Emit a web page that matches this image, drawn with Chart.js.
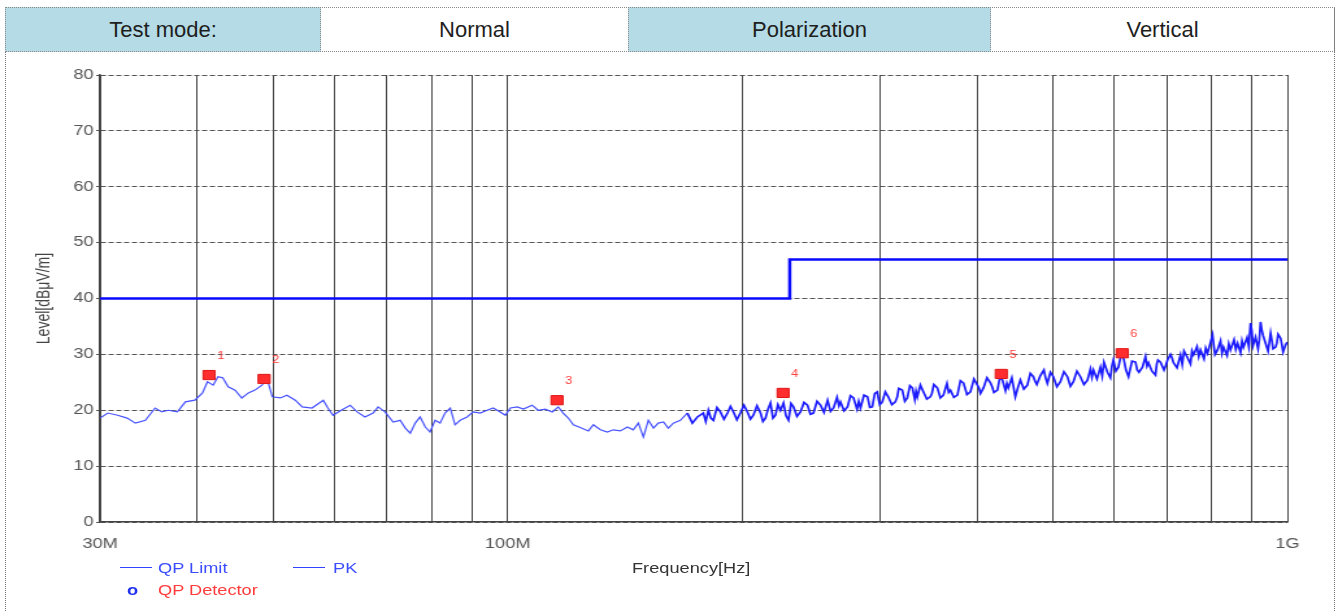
<!DOCTYPE html>
<html>
<head>
<meta charset="utf-8">
<script src="https://cdn.jsdelivr.net/npm/chart.js@4.4.1/dist/chart.umd.min.js"></script>
<style>
html,body{margin:0;padding:0;background:#fff;}
body{width:1338px;height:611px;position:relative;overflow:hidden;font-family:"Liberation Sans",Arial,sans-serif;}
.frame{position:absolute;top:7px;height:604px;width:0;border-left:1px dotted #777;}
.hdr{position:absolute;top:7px;height:45px;box-sizing:border-box;border:1px dotted #888;display:flex;align-items:center;justify-content:center;font-size:22px;color:#1e1e1e;}
.blue{background:#b5dce6;}
.lg{position:absolute;font-size:14px;line-height:16px;white-space:nowrap;transform:scaleX(1.3);transform-origin:left center;}
.ln{position:absolute;height:0;border-top:1.5px solid #3344ff;}
#c{position:absolute;left:0;top:55px;}
</style>
</head>
<body>
<div class="frame" style="left:5px"></div>
<div class="frame" style="left:1334px"></div>
<div class="hdr blue" style="left:5px;width:316px">Test mode:</div>
<div class="hdr" style="left:320px;width:309px">Normal</div>
<div class="hdr blue" style="left:628px;width:363px">Polarization</div>
<div class="hdr" style="left:990px;width:345px">Vertical</div>

<canvas id="c" width="1030" height="556" style="width:1338px;height:556px"></canvas>

<div class="ln" style="left:120px;top:567px;width:32px"></div>
<div class="lg" style="left:158px;top:560px;color:#3b4cff">QP Limit</div>
<div class="ln" style="left:293px;top:567px;width:32px"></div>
<div class="lg" style="left:333px;top:560px;color:#3b4cff">PK</div>
<div class="lg" style="left:127px;top:582px;color:#2233ee;font-weight:bold">o</div>
<div class="lg" style="left:158px;top:582px;color:#ff3b3b">QP Detector</div>
<div class="lg" style="left:632px;top:560px;color:#333">Frequency[Hz]</div>

<script>
// ---- data (frequency in MHz, level in dBuV/m) ----
const xTickValues = [30,40,50,60,70,80,90,100,200,300,400,500,600,700,800,900,1000];
const xTickLabels = {30:'30M', 100:'100M', 1000:'1G'};
const yMin = 0, yMax = 80, yStep = 10;

const limitFreq  = [30, 230, 230, 1000];
const limitLevel = [40, 40, 47, 47];

// PK trace, 30 MHz - 175 MHz
const pkFreqLow = [
 30.0,30.7,31.6,32.5,33.3,34.3,35.3,36.0,36.7,37.7,38.6,39.7,40.6,41.2,41.9,42.5,43.1,43.8,44.7,45.6,
 46.5,47.4,48.4,49.1,49.9,51.1,52.1,53.4,54.5,56.1,58.0,58.8,59.7,61.0,
 62.8,64.1,65.6,67.2,68.2,69.6,71.3,72.8,73.9,75.0,76.1,77.2,78.4,79.5,80.7,81.9,83.1,84.4,85.6,86.9,
 88.7,90.3,92.2,94.1,95.8,97.8,99.3,100.8,102.9,104.7,107.5,109.4,111.7,114.1,116.1,117.8,119.6,121.4,123.9,126.9,128.8,
 131.5,134.2,136.6,139.5,142.4,144.9,147.1,149.3,151.5,153.8,156.0,158.4,160.7,163.1,166.5,170.0,172.5,175.1
];
const pkLevelLow = [
 18.6,19.5,19.1,18.6,17.7,18.2,20.4,19.7,20.0,19.7,21.5,21.8,23.1,25.1,24.5,26.0,25.8,24.2,23.6,22.2,
 23.1,23.6,24.5,25.8,22.4,22.2,22.7,21.8,20.6,20.4,21.8,20.4,19.1,19.9,
 20.9,19.7,18.8,19.5,20.6,19.7,17.9,18.2,16.8,15.9,17.7,18.8,17.0,16.1,18.2,17.7,19.5,20.4,17.4,18.2,
 18.8,19.7,19.5,20.0,20.4,19.7,19.1,20.4,20.6,20.2,20.9,20.0,20.2,19.7,20.6,19.5,18.6,17.4,16.9,16.3,17.4,
 16.5,16.1,16.5,16.3,17.0,16.5,17.7,15.2,18.2,16.8,17.7,17.9,16.8,17.7,18.2,19.5,17.7,18.8
];
// PK trace, 178 MHz - 1 GHz (dense, noisy band)
const pkFreqHigh = [
 178.2,179.5,180.9,182.2,183.6,185.5,187.4,189.4,191.4,193.1,194.8,196.8,198.8,200.9,203.0,204.8,206.6,208.8,211.0,212.5,
 214.1,215.7,217.3,218.9,220.5,222.1,223.8,225.8,227.5,229.2,230.9,232.6,235.0,237.4,239.9,242.4,244.5,246.7,249.3,251.9,
 254.5,257.2,259.5,261.8,264.5,267.2,270.0,272.8,275.2,277.7,280.6,283.5,286.4,289.4,291.4,293.5,295.7,297.9,300.1,302.3,
 305.0,307.7,311.0,314.2,317.4,320.7,323.1,325.5,328.0,330.4,332.8,335.3,338.3,341.3,344.8,348.4,352.0,355.7,358.9,362.1,
 365.9,369.7,373.5,377.4,380.8,384.2,388.2,392.2,396.3,400.4,404.0,407.6,411.8,416.1,420.4,424.8,428.0,431.1,434.9,438.7,
 443.2,447.8,451.1,454.5,459.2,464.0,468.1,472.3,477.2,482.2,487.2,492.3,496.7,501.1,506.3,511.6,516.9,522.3,526.9,531.6,
 537.1,542.7,548.4,554.1,559.0,564.0,569.9,575.8,581.8,587.8,593.0,598.3,602.7,607.2,611.7,616.3,620.9,625.5,632.0,638.6,
 645.2,651.9,657.7,663.5,670.4,677.4,682.4,687.5,694.7,701.9,708.1,714.4,721.9,729.4,737.0,744.6,751.2,757.9,765.8,773.8,
 781.8,789.9,795.8,801.7,807.6,813.6,820.9,828.2,836.8,845.5,854.3,863.2,870.9,878.6,887.8,897.0,903.7,910.4,917.1,923.9,
 930.8,937.7,944.7,951.7,958.7,965.8,973.0,980.2,987.5,994.8,1000
];
const pkLevelHigh = [
 19.5,18.0,20.0,18.6,18.2,20.5,19.7,18.4,19.5,20.7,19.7,18.3,19.5,20.9,19.7,18.4,19.1,20.8,19.5,18.0,
 18.6,20.2,21.3,18.6,19.1,21.0,20.0,21.3,19.0,18.2,21.2,20.6,18.9,19.7,21.4,20.9,19.3,19.5,21.6,20.9,
 19.6,21.8,19.8,20.4,22.3,21.5,19.9,20.6,22.6,22.2,20.2,20.4,22.7,22.4,20.5,20.6,23.0,23.3,21.0,21.5,
 23.3,22.4,21.0,21.5,23.9,23.6,21.6,22.2,24.4,24.0,21.9,22.4,24.5,23.3,22.0,22.4,24.6,24.0,22.2,22.7,
 24.8,23.6,22.3,22.7,25.3,24.9,22.8,23.3,25.6,24.5,23.0,24.0,25.8,24.9,23.2,23.6,26.0,25.4,23.5,24.0,
 25.8,22.4,24.0,25.4,23.8,24.5,26.6,26.0,24.6,26.2,27.2,24.8,26.8,26.0,24.2,25.1,26.9,26.0,24.3,25.1,
 27.0,26.0,24.6,25.4,27.4,27.2,25.6,27.7,28.6,26.8,25.8,29.0,27.0,27.7,29.8,29.4,27.2,26.0,28.8,28.6,
 26.8,27.7,29.6,28.5,27.0,26.3,29.0,28.6,27.2,29.0,30.0,28.5,27.6,29.9,30.6,29.4,28.3,29.9,31.4,30.8,
 29.2,30.2,31.8,33.5,30.0,30.8,32.4,31.3,29.8,30.8,32.6,32.0,30.3,31.3,33.0,35.6,31.6,33.1,31.0,35.8,
 33.4,32.0,30.6,33.8,31.0,31.3,33.6,32.9,30.4,31.7,32.2
];
// extra readings inside the noisy band
const pkFreqExtra = [
 266.0,282.0,299.0,316.0,334.0,350.0,367.8,386.2,402.2,418.2,436.8,456.8,474.7,489.7,
 561.5,578.8,595.6,641.9,660.6,680.0,698.3,711.2,733.2,754.5,769.8,785.8,
 804.6,824.5,841.1,858.7,874.7,892.4,900.3,920.5,927.3,955.2,969.4,983.8
];
const pkLevelExtra = [
 20.8,21.6,22.0,22.4,23.4,23.0,23.2,23.9,24.0,24.2,24.8,24.6,25.2,25.8,
 25.9,26.1,27.9,27.2,27.9,28.3,28.0,29.4,28.2,30.6,29.6,31.1,
 31.6,30.2,31.9,30.9,32.4,31.4,34.2,32.6,34.4,32.5,32.0,31.8
];

const markerFreq   = [41.4, 48.7, 115.7, 225.6, 429.6, 614.0];
const markerLevel  = [26.3, 25.6, 21.8, 23.1, 26.5, 30.2];
const markerLabels = ['1','2','3','4','5','6'];

// ---- chart ----
const toXY = (xs, ys) => xs.map((x, i) => ({x: x, y: ys[i]}));
const pkData = toXY(pkFreqLow, pkLevelLow)
  .concat(toXY(pkFreqHigh, pkLevelHigh), toXY(pkFreqExtra, pkLevelExtra))
  .sort((a, b) => a.x - b.x);
const FONT = '"Liberation Sans", Arial, sans-serif';

const markerLabelPlugin = {
  id: 'markerLabels',
  afterDatasetsDraw(chart) {
    const meta = chart.getDatasetMeta(0);
    const ctx = chart.ctx;
    ctx.save();
    ctx.fillStyle = '#ff3c3c';
    ctx.font = '10px ' + FONT;
    ctx.textAlign = 'center';
    ctx.textBaseline = 'middle';
    meta.data.forEach((pt, i) => ctx.fillText(markerLabels[i], pt.x + 9, pt.y - 19));
    ctx.restore();
  }
};

new Chart(document.getElementById('c'), {
  type: 'line',
  data: {
    datasets: [
      {label: 'QP Detector', data: toXY(markerFreq, markerLevel), showLine: false,
       pointStyle: 'rect', pointRadius: 6.5, pointBackgroundColor: '#ff2d2d', pointBorderColor: '#e01515', pointBorderWidth: 1},
      {label: 'PK', data: pkData, borderColor: '#2424ff', borderWidth: 1.5, pointRadius: 0, tension: 0,
       segment: {
         borderColor: c => c.p0.parsed.x < 170 ? '#4652ff' : '#1c1cff',
         borderWidth: c => c.p0.parsed.x < 170 ? 1.2 : 1.7
       }},
      {label: 'QP Limit', data: toXY(limitFreq, limitLevel), borderColor: '#0a0aff', borderWidth: 2.5, pointRadius: 0, tension: 0}
    ]
  },
  options: {
    responsive: false,
    devicePixelRatio: 1,
    animation: false,
    layout: {padding: {left: 0, right: 39, top: 20, bottom: 0}},
    plugins: {legend: {display: false}, tooltip: {enabled: false}},
    scales: {
      x: {
        type: 'logarithmic', min: 30, max: 1000,
        afterBuildTicks: s => { s.ticks = xTickValues.map(v => ({value: v})); },
        afterFit: s => { s.height = 89; },
        ticks: {autoSkip: false, maxRotation: 0, padding: 14, color: '#555',
                font: {size: 14, family: FONT},
                callback: v => xTickLabels[v] || ''},
        grid: {color: '#444', lineWidth: 1, drawTicks: false},
        border: {color: '#444', width: 1.5}
      },
      y: {
        min: yMin, max: yMax,
        afterFit: s => { s.width = 77; },
        ticks: {stepSize: yStep, color: '#555', padding: 2, font: {size: 14, family: FONT}},
        grid: {color: '#555', lineWidth: 1, tickLength: 3, tickBorderDash: []},
        border: {color: '#444', width: 1.5, dash: [4, 2]},
        title: {display: true, text: 'Level[dBμV/m]', color: '#444',
                font: {size: 14, family: FONT}, padding: {top: 26, bottom: 0}}
      }
    }
  },
  plugins: [markerLabelPlugin]
});
</script>
</body>
</html>
